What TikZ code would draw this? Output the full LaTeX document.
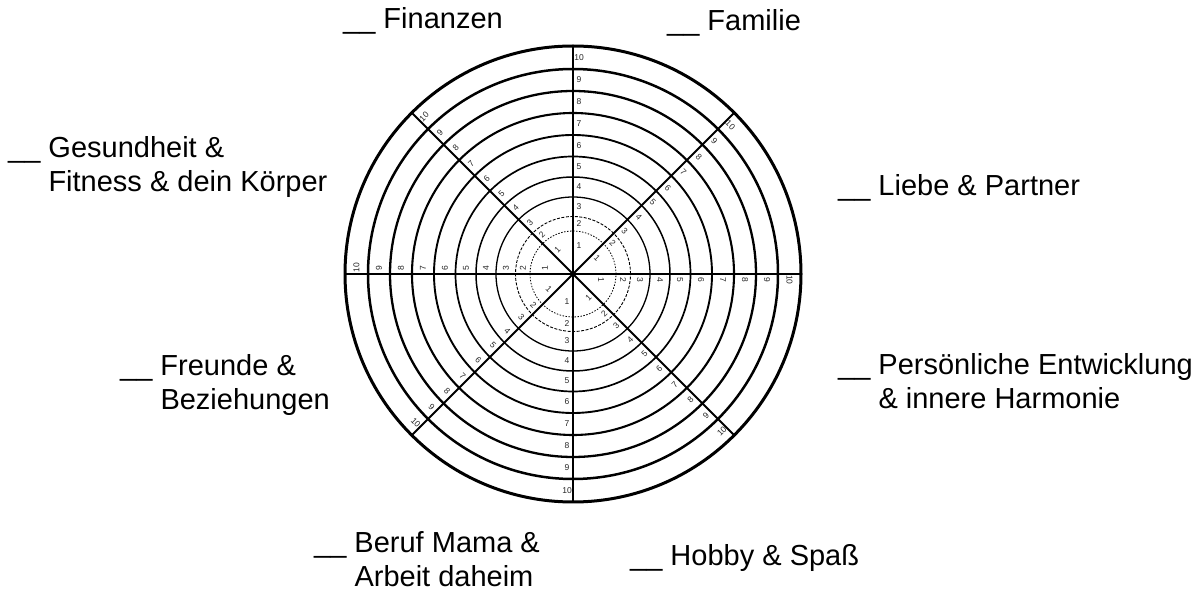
\documentclass[tikz,border=0pt]{standalone}
\usepackage{fontspec}
\setmainfont{Liberation Sans}
\usetikzlibrary{calc}
\begin{document}
\begin{tikzpicture}[x=1pt,y=1pt,
  lbl/.style={anchor=base west, inner sep=0pt, font=\fontsize{29}{34}\selectfont},
  num/.style={inner sep=0pt, font=\fontsize{8.5}{8.5}\selectfont, text=black!85},
  spoke/.style={draw=black, line width=2pt}]
\useasboundingbox (0,0) rectangle (1203,592);
\coordinate (C) at (573,318);
% rings
\draw[black, line width=0.8pt, dash pattern=on 1.5pt off 1.5pt] (C) circle[radius=43];
\draw[black, line width=0.9pt, dash pattern=on 3pt off 1.5pt] (C) circle[radius=57.5];
\foreach \r/\w in {77/1.3, 97/1.5, 117.5/1.7, 139/1.9, 161/2.1, 183/2.3, 205/2.5, 228/3.0}
  \draw[black, line width=\w pt] (C) circle[radius=\r];
% spokes
\foreach \a in {0,45,...,315}
  \draw[spoke] (C) -- ++(\a:228);
% numbers
\foreach \a/\rot in {0/-90, 45/-45, 90/0, 135/45, 180/90, 225/-45, 270/0, 315/45}
  \foreach \k/\r in {1/28, 2/50, 3/67, 4/87, 5/107, 6/128, 7/150, 8/172, 9/194, 10/216.5}
    \node[num, rotate=\rot] (n\a-\k) at ($(C)+(\a:\r)+(\a-90:6)$) {\k};
% text labels
\node[lbl] (fin) at (343,563) {\_\_ Finanzen};
\node[lbl] (fam) at (667,561) {\_\_ Familie};
\node[lbl] (ges) at (8,434) {\begin{tabular}[t]{@{}l@{}}\_\_ Gesundheit \&\\\hphantom{\_\_ }Fitness \& dein Körper\end{tabular}};
\node[lbl] (lie) at (838,396) {\_\_ Liebe \& Partner};
\node[lbl] (fre) at (120,216) {\begin{tabular}[t]{@{}l@{}}\_\_ Freunde \&\\\hphantom{\_\_ }Beziehungen\end{tabular}};
\node[lbl] (per) at (838,217) {\begin{tabular}[t]{@{}l@{}}\_\_ Persönliche Entwicklung\\\hphantom{\_\_ }\& innere Harmonie\end{tabular}};
\node[lbl] (ber) at (314,39) {\begin{tabular}[t]{@{}l@{}}\_\_ Beruf Mama \&\\\hphantom{\_\_ }Arbeit daheim\end{tabular}};
\node[lbl] (hob) at (630,26) {\_\_ Hobby \& Spaß};
\end{tikzpicture}
\end{document}
